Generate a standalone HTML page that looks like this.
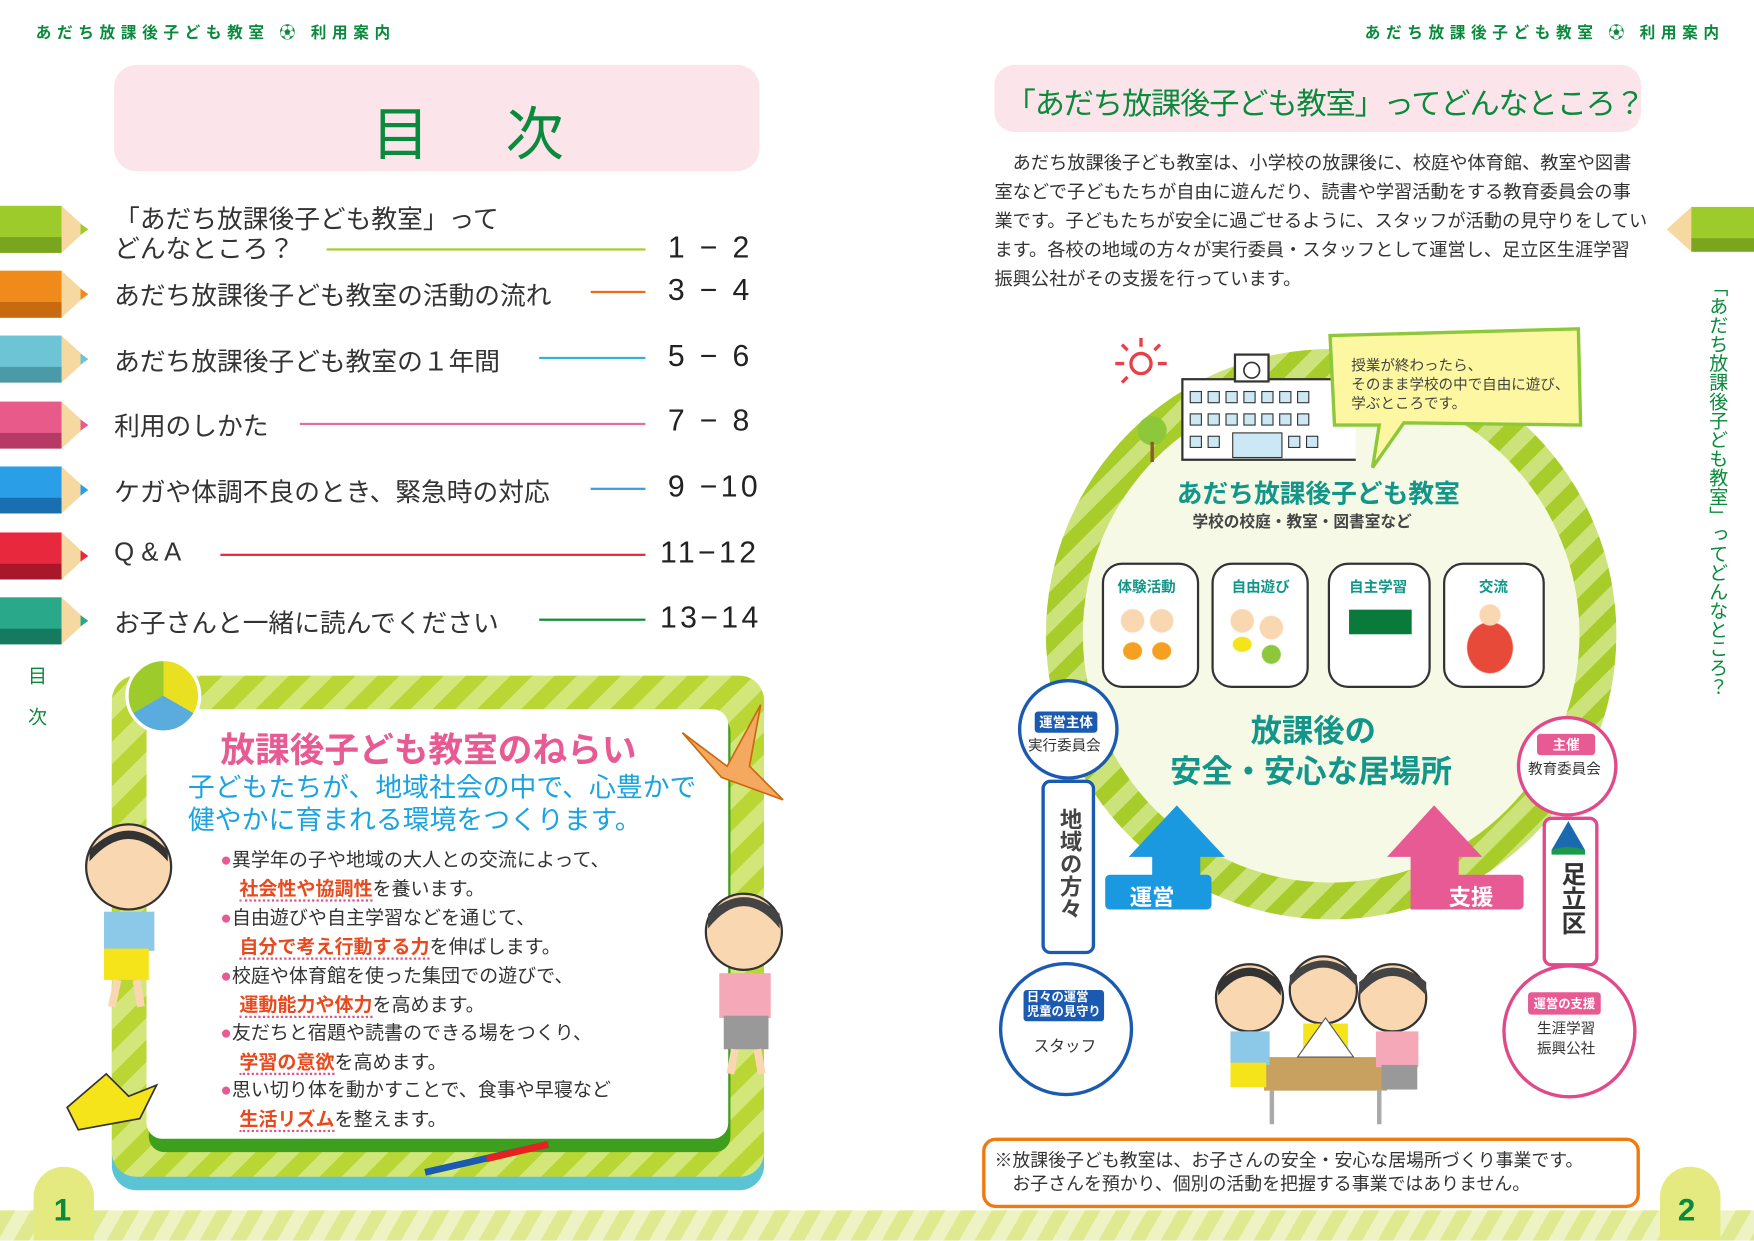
<!DOCTYPE html>
<html><head><meta charset="utf-8"><style>
html,body{margin:0;padding:0;background:#fff;}
body{width:1754px;height:1240px;overflow:hidden;position:relative;}
#s{position:absolute;left:0;top:0;width:1568px;height:1109px;transform:scale(1.11862);transform-origin:0 0;font-family:"Liberation Sans","Noto Sans CJK JP",sans-serif;color:#333;}
.a{position:absolute;white-space:nowrap;}
.hd{font-size:14px;font-weight:bold;color:#0a8a3c;letter-spacing:5px;}
.toc{font-size:23px;color:#333;}
.pg{font-size:27px;color:#222;letter-spacing:3px;}
.ln{position:absolute;height:2px;}
.stripe{background:repeating-linear-gradient(135deg,#b9d634 0 14px,#d3e67a 14px 28px);}
.g{color:#12968a;font-weight:bold;}
.b{font-size:17px;line-height:26px;}
.r{color:#e84a1e;font-weight:bold;border-bottom:2px dotted #e0508a;}
.pink{color:#e85a94;}
</style></head><body><div id="s">

<div class="a hd" style="left:32px;top:19px;">あだち放課後子ども教室 ⚽ 利用案内</div>
<div class="a hd" style="left:1220px;top:19px;">あだち放課後子ども教室 ⚽ 利用案内</div>

<div class="a" style="left:102px;top:58px;width:577px;height:95px;background:#fbe5ea;border-radius:20px;"></div>
<div class="a" style="left:332px;top:78px;font-size:52px;color:#0a8a3c;letter-spacing:8px;">目　次</div>

<svg class="a" style="left:0;top:180px" width="82" height="400" viewBox="0 0 82 400">
<g><polygon points="0,4 55,4 78,25 55,46 0,46" fill="#f6d9a0"/><rect x="0" y="4" width="55" height="42" fill="#9ccb2b"/><rect x="0" y="32" width="55" height="14" fill="#7aa51e"/><polygon points="72,20 79,25 72,30" fill="#9ccb2b"/></g>
<g transform="translate(0,58)"><polygon points="0,4 55,4 78,25 55,46 0,46" fill="#f6d9a0"/><rect x="0" y="4" width="55" height="42" fill="#f08a1a"/><rect x="0" y="32" width="55" height="14" fill="#c86a10"/><polygon points="72,20 79,25 72,30" fill="#f08a1a"/></g>
<g transform="translate(0,116)"><polygon points="0,4 55,4 78,25 55,46 0,46" fill="#f6d9a0"/><rect x="0" y="4" width="55" height="42" fill="#6cc4d4"/><rect x="0" y="32" width="55" height="14" fill="#4a9aa8"/><polygon points="72,20 79,25 72,30" fill="#6cc4d4"/></g>
<g transform="translate(0,175)"><polygon points="0,4 55,4 78,25 55,46 0,46" fill="#f6d9a0"/><rect x="0" y="4" width="55" height="42" fill="#e85a8a"/><rect x="0" y="32" width="55" height="14" fill="#b63a66"/><polygon points="72,20 79,25 72,30" fill="#e85a8a"/></g>
<g transform="translate(0,233)"><polygon points="0,4 55,4 78,25 55,46 0,46" fill="#f6d9a0"/><rect x="0" y="4" width="55" height="42" fill="#2a9ee6"/><rect x="0" y="32" width="55" height="14" fill="#1a6fb0"/><polygon points="72,20 79,25 72,30" fill="#2a9ee6"/></g>
<g transform="translate(0,292)"><polygon points="0,4 55,4 78,25 55,46 0,46" fill="#f6d9a0"/><rect x="0" y="4" width="55" height="42" fill="#e8283c"/><rect x="0" y="32" width="55" height="14" fill="#a8182a"/><polygon points="72,20 79,25 72,30" fill="#e8283c"/></g>
<g transform="translate(0,350)"><polygon points="0,4 55,4 78,25 55,46 0,46" fill="#f6d9a0"/><rect x="0" y="4" width="55" height="42" fill="#2aa88a"/><rect x="0" y="32" width="55" height="14" fill="#157a60"/><polygon points="72,20 79,25 72,30" fill="#2aa88a"/></g>
</svg>

<div class="a toc" style="left:102px;top:183px;line-height:26px;">「あだち放課後子ども教室」って<br>どんなところ？</div>
<div class="ln" style="left:292px;top:222px;width:285px;background:#a8cc2a;"></div>
<div class="a pg" style="left:597px;top:206px;">1 − 2</div>
<div class="a toc" style="left:102px;top:245px;">あだち放課後子ども教室の活動の流れ</div>
<div class="ln" style="left:528px;top:260px;width:49px;background:#f06a1a;"></div>
<div class="a pg" style="left:597px;top:244px;">3 − 4</div>
<div class="a toc" style="left:102px;top:304px;">あだち放課後子ども教室の１年間</div>
<div class="ln" style="left:482px;top:319px;width:95px;background:#3ab0d0;"></div>
<div class="a pg" style="left:597px;top:303px;">5 − 6</div>
<div class="a toc" style="left:102px;top:362px;">利用のしかた</div>
<div class="ln" style="left:268px;top:378px;width:309px;background:#e070a0;"></div>
<div class="a pg" style="left:597px;top:361px;">7 − 8</div>
<div class="a toc" style="left:102px;top:421px;">ケガや体調不良のとき、緊急時の対応</div>
<div class="ln" style="left:528px;top:436px;width:49px;background:#3aa0e0;"></div>
<div class="a pg" style="left:597px;top:420px;">9 −10</div>
<div class="a toc" style="left:102px;top:480px;">Q &amp; A</div>
<div class="ln" style="left:197px;top:495px;width:380px;background:#e8283c;"></div>
<div class="a pg" style="left:590px;top:479px;">11−12</div>
<div class="a toc" style="left:102px;top:538px;">お子さんと一緒に読んでください</div>
<div class="ln" style="left:482px;top:553px;width:95px;background:#138a3a;"></div>
<div class="a pg" style="left:590px;top:537px;">13−14</div>

<div class="a" style="left:25px;top:590px;font-size:17px;color:#0a8a3c;">目</div>
<div class="a" style="left:25px;top:627px;font-size:17px;color:#0a8a3c;">次</div>

<div class="a" style="left:100px;top:616px;width:583px;height:448px;background:#5ac4d4;border-radius:22px;"></div>
<div class="a stripe" style="left:100px;top:604px;width:583px;height:448px;border-radius:22px;"></div>
<div class="a" style="left:133px;top:640px;width:520px;height:390px;background:#3e9e1e;border-radius:14px;"></div>
<div class="a" style="left:131px;top:634px;width:520px;height:384px;background:#fff;border-radius:14px;"></div>
<div class="a" style="left:112px;top:588px;width:62px;height:62px;border-radius:50%;background:conic-gradient(#e8e020 0 120deg,#5aacdf 120deg 240deg,#9ccb2b 240deg);border:3px solid #fff;"></div>
<div class="a pink" style="left:197px;top:645px;font-size:31px;font-weight:bold;">放課後子ども教室のねらい</div>
<div class="a" style="left:168px;top:690px;font-size:24px;color:#1aa3e0;line-height:29px;">子どもたちが、地域社会の中で、心豊かで<br>健やかに育まれる環境をつくります。</div>
<div class="a b" style="left:197px;top:756px;"><span class="pink">●</span>異学年の子や地域の大人との交流によって、<br>　<span class="r">社会性や協調性</span>を養います。</div>
<div class="a b" style="left:197px;top:808px;"><span class="pink">●</span>自由遊びや自主学習などを通じて、<br>　<span class="r">自分で考え行動する力</span>を伸ばします。</div>
<div class="a b" style="left:197px;top:860px;"><span class="pink">●</span>校庭や体育館を使った集団での遊びで、<br>　<span class="r">運動能力や体力</span>を高めます。</div>
<div class="a b" style="left:197px;top:911px;"><span class="pink">●</span>友だちと宿題や読書のできる場をつくり、<br>　<span class="r">学習の意欲</span>を高めます。</div>
<div class="a b" style="left:197px;top:962px;"><span class="pink">●</span>思い切り体を動かすことで、食事や早寝など<br>　<span class="r">生活リズム</span>を整えます。</div>
<svg class="a" style="left:60px;top:730px" width="110" height="180"><circle cx="55" cy="45" r="38" fill="#f9d7b0" stroke="#333" stroke-width="2"/><path d="M20,40 Q55,0 90,40 L90,30 Q55,-5 20,30Z" fill="#333"/><rect x="33" y="85" width="45" height="35" fill="#8cc8e8"/><rect x="33" y="118" width="40" height="28" fill="#f5e41a"/><path d="M45,146 L40,170 M62,146 L66,170" stroke="#f9d7b0" stroke-width="7"/></svg>
<svg class="a" style="left:625px;top:795px" width="80" height="175"><circle cx="40" cy="38" r="34" fill="#f9d7b0" stroke="#333" stroke-width="2"/><path d="M8,35 Q40,-5 72,35 L72,22 Q40,-8 8,22Z" fill="#444"/><rect x="18" y="75" width="46" height="40" fill="#f4a8b8"/><rect x="22" y="113" width="40" height="30" fill="#999"/><path d="M32,143 L28,165 M52,143 L56,165" stroke="#f9d7b0" stroke-width="7"/></svg>
<svg class="a" style="left:600px;top:625px" width="105" height="95"><polygon points="10,30 50,60 80,5 70,60 100,90 45,70" fill="#f4a860" stroke="#c86a10" stroke-width="1.5"/></svg>
<svg class="a" style="left:55px;top:950px" width="95" height="70"><polygon points="5,40 40,10 60,30 85,20 70,50 15,60" fill="#f5e41a" stroke="#333" stroke-width="1.5"/></svg>
<svg class="a" style="left:370px;top:1015px" width="130" height="40"><line x1="10" y1="33" x2="120" y2="8" stroke="#1a5ab0" stroke-width="6"/><line x1="65" y1="21" x2="120" y2="8" stroke="#e82020" stroke-width="6"/></svg>

<div class="a" style="left:0;top:1082px;width:1568px;height:27px;background:repeating-linear-gradient(120deg,#dfe98f 0 12px,#eef3c4 12px 24px);"></div>
<div class="a" style="left:30px;top:1043px;width:54px;height:66px;background:#e4e980;border-radius:27px 27px 0 0;"></div>
<div class="a" style="left:48px;top:1066px;font-size:28px;font-weight:bold;color:#0a8a3c;">1</div>
<div class="a" style="left:1484px;top:1043px;width:54px;height:66px;background:#e4e980;border-radius:27px 27px 0 0;"></div>
<div class="a" style="left:1500px;top:1066px;font-size:28px;font-weight:bold;color:#0a8a3c;">2</div>

<div class="a" style="left:889px;top:58px;width:578px;height:60px;background:#fbe5ea;border-radius:18px;"></div>
<div class="a" style="left:899px;top:71px;font-size:27px;letter-spacing:-1px;color:#0a8a3c;">「あだち放課後子ども教室」ってどんなところ？</div>
<div class="a" style="left:889px;top:133px;font-size:16.3px;line-height:26px;color:#333;">　あだち放課後子ども教室は、小学校の放課後に、校庭や体育館、教室や図書<br>室などで子どもたちが自由に遊んだり、読書や学習活動をする教育委員会の事<br>業です。子どもたちが安全に過ごせるように、スタッフが活動の見守りをしてい<br>ます。各校の地域の方々が実行委員・スタッフとして運営し、足立区生涯学習<br>振興公社がその支援を行っています。</div>
<svg class="a" style="left:1488px;top:183px" width="80" height="44"><polygon points="2,22 24,2 80,2 80,42 24,42" fill="#f6d9a0"/><rect x="24" y="2" width="56" height="40" fill="#9ccb2b"/><rect x="24" y="30" width="56" height="12" fill="#7aa51e"/></svg>
<div class="a" style="left:1524px;top:248px;font-size:17px;color:#0a8a3c;writing-mode:vertical-rl;line-height:20px;">「あだち放課後子ども教室」ってどんなところ？</div>

<div class="a" style="left:935px;top:312px;width:510px;height:510px;border-radius:50%;background:repeating-linear-gradient(135deg,#a8cc2a 0 13px,#cce27a 13px 26px);"></div>
<div class="a" style="left:968px;top:345px;width:444px;height:444px;border-radius:50%;background:#f5f9e6;"></div>
<svg class="a" style="left:995px;top:300px" width="50" height="50"><circle cx="25" cy="25" r="9" fill="none" stroke="#e8404a" stroke-width="3"/><g stroke="#e8404a" stroke-width="3"><line x1="25" y1="2" x2="25" y2="10"/><line x1="2" y1="25" x2="10" y2="25"/><line x1="40" y1="25" x2="48" y2="25"/><line x1="8" y1="8" x2="13" y2="13"/><line x1="42" y1="8" x2="37" y2="13"/><line x1="8" y1="42" x2="13" y2="37"/></g></svg>
<svg class="a" style="left:1012px;top:315px" width="200" height="100"><circle cx="18" cy="70" r="13" fill="#8cc83a"/><line x1="18" y1="80" x2="18" y2="98" stroke="#8a5a2a" stroke-width="3"/><rect x="45" y="24" width="160" height="72" fill="#fff" stroke="#333" stroke-width="2"/><rect x="92" y="2" width="30" height="24" fill="#fff" stroke="#333" stroke-width="2"/><circle cx="107" cy="16" r="7" fill="none" stroke="#333" stroke-width="1.5"/><g fill="#cde8f5" stroke="#333"><rect x="52" y="35" width="10" height="10"/><rect x="68" y="35" width="10" height="10"/><rect x="84" y="35" width="10" height="10"/><rect x="100" y="35" width="10" height="10"/><rect x="116" y="35" width="10" height="10"/><rect x="132" y="35" width="10" height="10"/><rect x="148" y="35" width="10" height="10"/><rect x="52" y="55" width="10" height="10"/><rect x="68" y="55" width="10" height="10"/><rect x="84" y="55" width="10" height="10"/><rect x="100" y="55" width="10" height="10"/><rect x="116" y="55" width="10" height="10"/><rect x="132" y="55" width="10" height="10"/><rect x="148" y="55" width="10" height="10"/><rect x="52" y="75" width="10" height="10"/><rect x="68" y="75" width="10" height="10"/><rect x="90" y="72" width="44" height="22"/><rect x="140" y="75" width="10" height="10"/><rect x="156" y="75" width="10" height="10"/></g></svg>
<svg class="a" style="left:1185px;top:290px" width="230" height="130"><polygon points="4,10 226,4 228,90 70,88 42,128 48,90 8,90" fill="#fcf7a0" stroke="#8cc83a" stroke-width="3"/></svg>
<div class="a" style="left:1208px;top:318px;font-size:13px;line-height:17px;color:#444;">授業が終わったら、<br>そのまま学校の中で自由に遊び、<br>学ぶところです。</div>
<div class="a g" style="left:1052px;top:422px;font-size:23px;">あだち放課後子ども教室</div>
<div class="a" style="left:1066px;top:456px;font-size:14px;font-weight:bold;color:#444;">学校の校庭・教室・図書室など</div>

<div class="a" style="left:985px;top:503px;width:83px;height:108px;border:2px solid #333;border-radius:18px;background:#fff;"></div>
<div class="a" style="left:1083px;top:503px;width:83px;height:108px;border:2px solid #333;border-radius:18px;background:#fff;"></div>
<div class="a" style="left:1187px;top:503px;width:88px;height:108px;border:2px solid #333;border-radius:18px;background:#fff;"></div>
<div class="a" style="left:1290px;top:503px;width:87px;height:108px;border:2px solid #333;border-radius:18px;background:#fff;"></div>
<div class="a g" style="left:999px;top:514px;font-size:13px;">体験活動</div>
<div class="a g" style="left:1101px;top:514px;font-size:13px;">自由遊び</div>
<div class="a g" style="left:1206px;top:514px;font-size:13px;">自主学習</div>
<div class="a g" style="left:1322px;top:514px;font-size:13px;">交流</div>
<div class="a" style="left:1206px;top:545px;width:56px;height:22px;background:#0a7a3a;"></div>
<div class="a" style="left:993px;top:540px;width:65px;height:60px;background:radial-gradient(circle at 30% 25%,#f9d7b0 10px,transparent 11px),radial-gradient(circle at 70% 25%,#f9d7b0 10px,transparent 11px),radial-gradient(ellipse at 30% 70%,#f5a020 8px,transparent 9px),radial-gradient(ellipse at 70% 70%,#f5a020 8px,transparent 9px);"></div>
<div class="a" style="left:1091px;top:540px;width:65px;height:60px;background:radial-gradient(circle at 30% 25%,#f9d7b0 10px,transparent 11px),radial-gradient(circle at 70% 35%,#f9d7b0 10px,transparent 11px),radial-gradient(ellipse at 30% 60%,#f5e41a 8px,transparent 9px),radial-gradient(ellipse at 70% 75%,#8cc83a 8px,transparent 9px);"></div>
<div class="a" style="left:1297px;top:540px;width:70px;height:65px;background:radial-gradient(circle at 50% 15%,#f9d7b0 9px,transparent 10px),radial-gradient(ellipse at 50% 60%,#e84a3a 8px 20px,transparent 21px);"></div>

<div class="a g" style="left:1118px;top:632px;font-size:28px;">放課後の</div>
<div class="a g" style="left:1046px;top:668px;font-size:28px;">安全・安心な居場所</div>

<svg class="a" style="left:985px;top:718px" width="130" height="100"><polygon points="67,2 110,48 88,48 88,95 45,95 45,48 24,48" fill="#1a98e0"/><rect x="3" y="64" width="95" height="31" rx="4" fill="#1a98e0"/></svg>
<div class="a" style="left:1010px;top:786px;font-size:20px;font-weight:bold;color:#fff;">運営</div>
<svg class="a" style="left:1240px;top:718px" width="130" height="100"><polygon points="42,2 85,48 64,48 64,95 21,95 21,48 0,48" fill="#e85a94"/><rect x="27" y="64" width="95" height="31" rx="4" fill="#e85a94"/></svg>
<div class="a" style="left:1295px;top:786px;font-size:20px;font-weight:bold;color:#fff;">支援</div>

<div class="a" style="left:910px;top:607px;width:84px;height:84px;border:3px solid #1a5ab0;border-radius:50%;background:#fff;"></div>
<div class="a" style="left:931px;top:697px;width:42px;height:150px;border:3px solid #1a5ab0;border-radius:8px;background:#fff;"></div>
<div class="a" style="left:893px;top:860px;width:114px;height:114px;border:3px solid #1a5ab0;border-radius:50%;background:#fff;"></div>
<div class="a" style="left:925px;top:636px;background:#1a5ab0;color:#fff;font-size:12px;font-weight:bold;padding:1px 4px;border-radius:3px;">運営主体</div>
<div class="a" style="left:919px;top:656px;font-size:13px;color:#333;">実行委員会</div>
<div class="a" style="left:941px;top:722px;font-size:20px;font-weight:bold;color:#444;writing-mode:vertical-rl;">地域の方々</div>
<div class="a" style="left:915px;top:885px;background:#1a5ab0;color:#fff;font-size:11px;font-weight:bold;padding:1px 3px;line-height:13px;border-radius:3px;">日々の運営<br>児童の見守り</div>
<div class="a" style="left:924px;top:925px;font-size:14px;color:#333;">スタッフ</div>

<div class="a" style="left:1356px;top:640px;width:84px;height:84px;border:3px solid #e04a8a;border-radius:50%;background:#fff;"></div>
<div class="a" style="left:1379px;top:730px;width:44px;height:128px;border:3px solid #e04a8a;border-radius:8px;background:#fff;"></div>
<div class="a" style="left:1343px;top:862px;width:114px;height:114px;border:3px solid #e04a8a;border-radius:50%;background:#fff;"></div>
<div class="a" style="left:1374px;top:656px;background:#e85a94;color:#fff;font-size:12px;font-weight:bold;padding:1px 14px;border-radius:3px;">主催</div>
<div class="a" style="left:1366px;top:677px;font-size:13px;color:#333;">教育委員会</div>
<svg class="a" style="left:1385px;top:732px" width="34" height="34"><polygon points="17,2 32,28 2,28" fill="#1a6ab0"/><path d="M2,28 Q17,22 32,28 L32,32 L2,32Z" fill="#1a9a4a"/></svg>
<div class="a" style="left:1389px;top:770px;font-size:22px;font-weight:bold;color:#333;writing-mode:vertical-rl;">足立区</div>
<div class="a" style="left:1366px;top:887px;background:#e85a94;color:#fff;font-size:11px;font-weight:bold;padding:2px 5px;border-radius:3px;">運営の支援</div>
<div class="a" style="left:1374px;top:911px;font-size:13px;line-height:18px;color:#333;">生涯学習<br>振興公社</div>

<svg class="a" style="left:1075px;top:850px" width="210" height="160"><rect x="55" y="95" width="110" height="30" fill="#c8a060"/><line x1="62" y1="125" x2="62" y2="155" stroke="#aaa" stroke-width="4"/><line x1="158" y1="125" x2="158" y2="155" stroke="#aaa" stroke-width="4"/><circle cx="42" cy="42" r="30" fill="#f9d7b0" stroke="#333" stroke-width="2"/><path d="M14,40 Q42,5 70,40 L70,28 Q42,2 14,28Z" fill="#333"/><rect x="25" y="72" width="35" height="30" fill="#8cc8e8"/><rect x="25" y="100" width="32" height="22" fill="#f5e41a"/><circle cx="108" cy="35" r="30" fill="#f9d7b0" stroke="#333" stroke-width="2"/><path d="M78,32 Q108,-2 138,32 L138,22 Q108,-5 78,22Z" fill="#444"/><rect x="90" y="65" width="40" height="30" fill="#f5e41a"/><circle cx="170" cy="42" r="30" fill="#f9d7b0" stroke="#333" stroke-width="2"/><path d="M140,40 Q170,5 200,40 L200,28 Q170,2 140,28Z" fill="#444"/><rect x="155" y="72" width="38" height="32" fill="#f4a8b8"/><rect x="160" y="102" width="32" height="22" fill="#999"/><polygon points="110,60 85,95 135,95" fill="#fff" stroke="#555"/></svg>

<div class="a" style="left:878px;top:1017px;width:582px;height:57px;border:3px solid #f07a10;border-radius:12px;background:#fff;"></div>
<div class="a" style="left:889px;top:1028px;font-size:16px;line-height:21px;color:#333;">※放課後子ども教室は、お子さんの安全・安心な居場所づくり事業です。<br>　お子さんを預かり、個別の活動を把握する事業ではありません。</div>

</div></body></html>
